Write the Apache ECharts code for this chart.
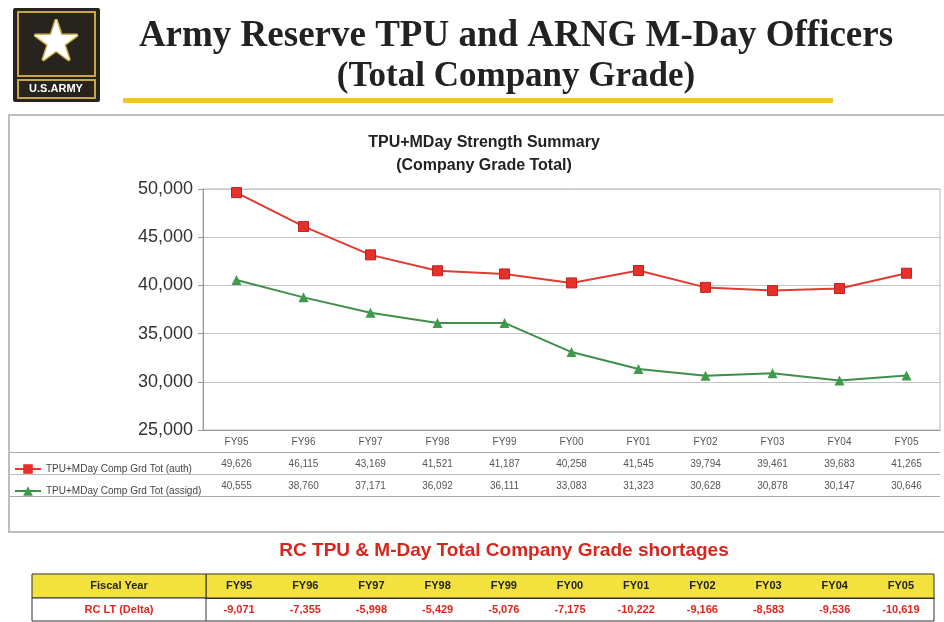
<!DOCTYPE html>
<html>
<head>
<meta charset="utf-8">
<script src="https://cdn.jsdelivr.net/npm/echarts@6/dist/echarts.min.js"></script>
<style>
  html, body { margin: 0; padding: 0; background: #fff; }
  #chart { width: 944px; height: 622px; }
</style>
</head>
<body>
<div id="chart"></div>
<script>
  // fiscal years and strengths
  const categories = ['FY95', 'FY96', 'FY97', 'FY98', 'FY99', 'FY00', 'FY01', 'FY02', 'FY03', 'FY04', 'FY05']
  const authValues = [49626, 46115, 43169, 41521, 41187, 40258, 41545, 39794, 39461, 39683, 41265]
  const assignedValues = [40555, 38760, 37171, 36092, 36111, 33083, 31323, 30628, 30878, 30147, 30646]
  const deltaValues = [-9071, -7355, -5998, -5429, -5076, -7175, -10222, -9166, -8583, -9536, -10619]
  const authName = 'TPU+MDay Comp Grd Tot (auth)'
  const assignedName = 'TPU+MDay Comp Grd Tot (assigd)'
  const yMin = 25000
  const yMax = 50000
  const yStep = 5000

  const fmt = v => v.toLocaleString('en-US')
  const sans = 'Liberation Sans, Arial, sans-serif'
  const serif = 'Liberation Serif, Times New Roman, serif'

  const myChart = echarts.init(document.getElementById('chart'))
  const option = {
    backgroundColor: '#fff',
    animation: false,
    textStyle: { fontFamily: sans },
    legend: {
      orient: 'vertical',
      left: 9,
      top: 458,
      itemWidth: 26,
      itemHeight: 12,
      itemGap: 10,
      itemStyle: { borderWidth: 0 },
      textStyle: { fontSize: 10, color: '#444', lineHeight: 12 },
      data: [authName, assignedName]
    },
    grid: [
      { left: 203, top: 189, width: 737, height: 241, show: true, borderColor: '#b8b8b8', borderWidth: 1 },
      { left: 206, top: 574, width: 728, height: 24, show: true, backgroundColor: '#f3e23e', borderColor: '#333', borderWidth: 1 }
    ],
    xAxis: [
      {
        type: 'category', gridIndex: 0, data: categories,
        axisLine: { lineStyle: { color: '#999' } },
        axisTick: { length: 67, lineStyle: { color: '#aaa' } },
        axisLabel: { fontSize: 10, color: '#555', margin: 7 }
      },
      {
        type: 'category', gridIndex: 0, data: authValues.map(fmt), position: 'bottom', offset: 22,
        axisLine: { show: false }, axisTick: { show: false },
        axisLabel: { fontSize: 10, color: '#555', margin: 7 }
      },
      {
        type: 'category', gridIndex: 0, data: assignedValues.map(fmt), position: 'bottom', offset: 44,
        axisLine: { show: false }, axisTick: { show: false },
        axisLabel: { fontSize: 10, color: '#555', margin: 7 }
      },
      {
        type: 'category', gridIndex: 1, data: categories, position: 'top',
        axisLine: { lineStyle: { color: '#333' } },
        axisTick: { inside: true, length: 24, lineStyle: { color: '#333' } },
        axisLabel: { inside: true, fontSize: 11, fontWeight: 'bold', color: '#222', margin: 6 }
      },
      {
        type: 'category', gridIndex: 1, data: deltaValues.map(fmt), position: 'bottom',
        axisLine: { lineStyle: { color: '#333' } },
        axisTick: { length: 23, lineStyle: { color: '#333' } },
        axisLabel: { fontSize: 11, fontWeight: 'bold', color: '#e0261c', margin: 6 }
      }
    ],
    yAxis: [
      {
        type: 'value', gridIndex: 0, min: yMin, max: yMax, interval: yStep,
        axisLine: { show: true, lineStyle: { color: '#999' } },
        axisTick: { show: true, length: 5, lineStyle: { color: '#999' } },
        splitLine: { lineStyle: { color: '#c4c4c4' } },
        axisLabel: { fontSize: 18, color: '#333', margin: 10, formatter: v => fmt(v) }
      },
      {
        type: 'value', gridIndex: 1, show: false
      }
    ],
    series: [
      {
        name: authName, type: 'line', xAxisIndex: 0, yAxisIndex: 0,
        data: authValues,
        symbol: 'rect', symbolSize: 10,
        lineStyle: { color: '#e23a30', width: 2 },
        itemStyle: { color: '#e8302a', borderColor: '#c42020', borderWidth: 1 }
      },
      {
        name: assignedName, type: 'line', xAxisIndex: 0, yAxisIndex: 0,
        data: assignedValues,
        symbol: 'triangle', symbolSize: 10,
        lineStyle: { color: '#3f8f4a', width: 2 },
        itemStyle: { color: '#3f9a4c' }
      }
    ],
    graphic: [
      // outer chart frame
      { type: 'rect', shape: { x: 9, y: 115, width: 950, height: 417 }, style: { fill: 'none', stroke: '#bdbdbd', lineWidth: 2 }, z: -1 },
      // data table rules
      { type: 'line', shape: { x1: 10, y1: 452.5, x2: 940, y2: 452.5 }, style: { stroke: '#aaa', lineWidth: 1 } },
      { type: 'line', shape: { x1: 10, y1: 474.5, x2: 940, y2: 474.5 }, style: { stroke: '#bbb', lineWidth: 1 } },
      { type: 'line', shape: { x1: 10, y1: 496.5, x2: 940, y2: 496.5 }, style: { stroke: '#aaa', lineWidth: 1 } },
      // logo
      { type: 'rect', shape: { x: 13, y: 8, width: 87, height: 94, r: 2 }, style: { fill: '#26241c' } },
      { type: 'rect', shape: { x: 18, y: 12, width: 77, height: 64 }, style: { fill: 'none', stroke: '#c9a548', lineWidth: 2 } },
      { type: 'text', x: 56, y: 45, style: { text: '★', font: '56px DejaVu Sans', fill: '#fff', stroke: '#d4af4f', lineWidth: 3, align: 'center', verticalAlign: 'middle' } },
      { type: 'rect', shape: { x: 18, y: 80, width: 77, height: 18 }, style: { fill: 'none', stroke: '#c9a548', lineWidth: 2 } },
      { type: 'text', x: 56, y: 89, style: { text: 'U.S.ARMY', font: 'bold 11px ' + sans, fill: '#fff', align: 'center', verticalAlign: 'middle' } },
      // slide heading
      { type: 'text', x: 516, y: 36, style: { text: 'Army Reserve TPU and ARNG M-Day Officers', font: 'bold 37px ' + serif, fill: '#222', align: 'center', verticalAlign: 'middle' } },
      { type: 'text', x: 516, y: 77, style: { text: '(Total Company Grade)', font: 'bold 35px ' + serif, fill: '#222', align: 'center', verticalAlign: 'middle' } },
      { type: 'rect', shape: { x: 123, y: 98, width: 710, height: 5 }, style: { fill: '#f1c530' } },
      // chart title
      { type: 'text', x: 484, y: 143, style: { text: 'TPU+MDay Strength Summary', font: 'bold 16px ' + sans, fill: '#222', align: 'center', verticalAlign: 'middle' } },
      { type: 'text', x: 484, y: 166, style: { text: '(Company Grade Total)', font: 'bold 16px ' + sans, fill: '#222', align: 'center', verticalAlign: 'middle' } },
      // shortages table
      { type: 'text', x: 504, y: 551, style: { text: 'RC TPU & M-Day Total Company Grade shortages', font: 'bold 19px ' + sans, fill: '#d9261c', align: 'center', verticalAlign: 'middle' } },
      { type: 'rect', shape: { x: 32, y: 574, width: 174, height: 24 }, style: { fill: '#f3e23e', stroke: '#333', lineWidth: 1 } },
      { type: 'rect', shape: { x: 32, y: 598, width: 174, height: 23 }, style: { fill: '#fff', stroke: '#333', lineWidth: 1 } },
      { type: 'text', x: 119, y: 586, style: { text: 'Fiscal Year', font: 'bold 11px ' + sans, fill: '#222', align: 'center', verticalAlign: 'middle' } },
      { type: 'text', x: 119, y: 610, style: { text: 'RC LT (Delta)', font: 'bold 11px ' + sans, fill: '#e0261c', align: 'center', verticalAlign: 'middle' } },
      { type: 'line', shape: { x1: 206, y1: 621, x2: 934, y2: 621 }, style: { stroke: '#333', lineWidth: 1 } },
      { type: 'line', shape: { x1: 934, y1: 598, x2: 934, y2: 621 }, style: { stroke: '#333', lineWidth: 1 } }
    ]
  }
  myChart.setOption(option)
  window.addEventListener('resize', function() {
    myChart.resize()
  })
</script>
</body>
</html>
